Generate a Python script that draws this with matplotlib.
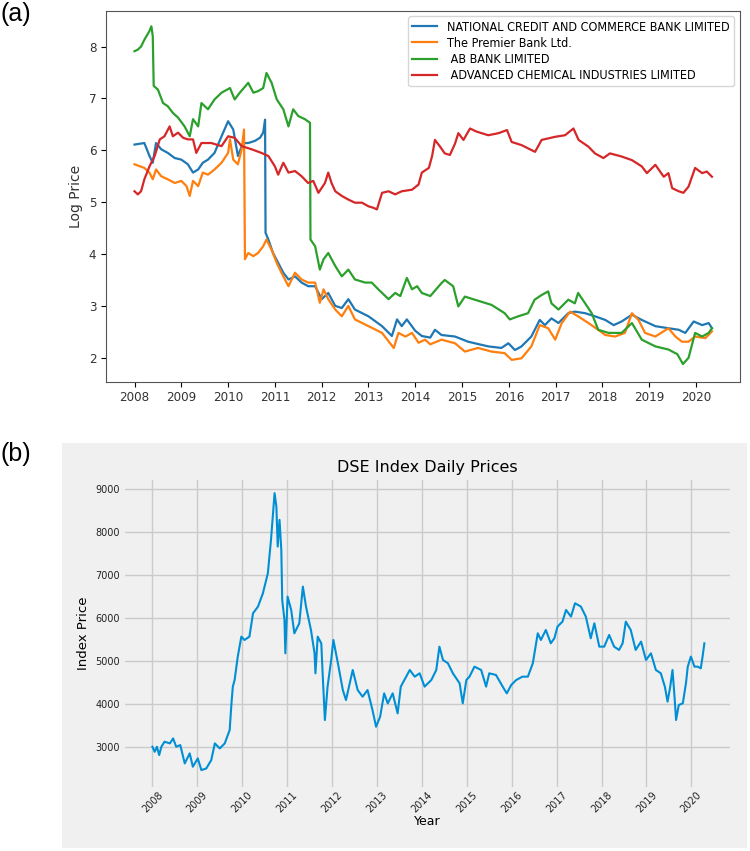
import matplotlib
matplotlib.use("Agg")
import matplotlib.pyplot as plt
from matplotlib import font_manager as fm
from matplotlib.patches import Rectangle

# ---- data (decimal year, value) ----
series_names = ["NATIONAL CREDIT AND COMMERCE BANK LIMITED", "The Premier Bank Ltd.",
                " AB BANK LIMITED", " ADVANCED CHEMICAL INDUSTRIES LIMITED"]

ncc_t = [2008.0, 2008.21, 2008.32, 2008.39, 2008.46, 2008.57, 2008.71, 2008.86, 2009.0, 2009.14,
         2009.25, 2009.36, 2009.46, 2009.57, 2009.71, 2009.86, 2010.0, 2010.11, 2010.21, 2010.32,
         2010.43, 2010.57, 2010.68, 2010.75, 2010.79, 2010.8, 2010.86, 2010.96, 2011.07, 2011.18,
         2011.29, 2011.43, 2011.57, 2011.71, 2011.86, 2012.0, 2012.14, 2012.29, 2012.43, 2012.57,
         2012.71, 2013.0, 2013.29, 2013.5, 2013.61, 2013.71, 2013.82, 2014.0, 2014.14, 2014.32,
         2014.42, 2014.56, 2014.85, 2015.13, 2015.56, 2015.84, 2015.99, 2016.13, 2016.27, 2016.48,
         2016.66, 2016.77, 2016.91, 2017.06, 2017.27, 2017.41, 2017.63, 2017.84, 2018.06, 2018.24,
         2018.41, 2018.63, 2018.84, 2019.13, 2019.41, 2019.63, 2019.77, 2019.95, 2020.13, 2020.27,
         2020.34]
ncc_v = [6.11, 6.14, 5.89, 5.76, 6.14, 6.02, 5.95, 5.85, 5.82, 5.73,
         5.57, 5.63, 5.76, 5.82, 5.95, 6.27, 6.56, 6.4, 5.89, 6.14,
         6.14, 6.18, 6.24, 6.34, 6.59, 4.41, 4.28, 4.02, 3.83, 3.64,
         3.51, 3.57, 3.45, 3.38, 3.38, 3.13, 3.25, 3.0, 2.96, 3.13,
         2.93, 2.8, 2.61, 2.42, 2.74, 2.61, 2.74, 2.52, 2.42, 2.39,
         2.54, 2.44, 2.41, 2.31, 2.22, 2.19, 2.28, 2.15, 2.22, 2.41,
         2.73, 2.63, 2.76, 2.67, 2.86, 2.89, 2.86, 2.8, 2.73, 2.63,
         2.7, 2.83, 2.73, 2.61, 2.57, 2.54, 2.48, 2.7, 2.63, 2.67,
         2.57]

prem_t = [2008.0, 2008.21, 2008.32, 2008.39, 2008.46, 2008.57, 2008.71, 2008.86, 2009.0, 2009.11,
          2009.18, 2009.25, 2009.36, 2009.46, 2009.57, 2009.71, 2009.86, 2010.0, 2010.04, 2010.11,
          2010.21, 2010.29, 2010.34, 2010.36, 2010.43, 2010.54, 2010.64, 2010.75, 2010.82, 2010.93,
          2011.04, 2011.14, 2011.29, 2011.43, 2011.57, 2011.71, 2011.86, 2011.96, 2012.04, 2012.14,
          2012.29, 2012.43, 2012.57, 2012.71, 2013.0, 2013.29, 2013.54, 2013.64, 2013.79, 2013.93,
          2014.07, 2014.21, 2014.32, 2014.56, 2014.85, 2015.06, 2015.34, 2015.63, 2015.91, 2016.06,
          2016.27, 2016.48, 2016.66, 2016.84, 2016.99, 2017.13, 2017.31, 2017.48, 2017.7, 2017.91,
          2018.06, 2018.27, 2018.48, 2018.63, 2018.77, 2018.91, 2019.13, 2019.41, 2019.56, 2019.7,
          2019.84, 2019.98, 2020.2, 2020.34]
prem_v = [5.73, 5.66, 5.57, 5.44, 5.63, 5.5, 5.44, 5.37, 5.41, 5.31,
          5.12, 5.41, 5.31, 5.57, 5.53, 5.63, 5.76, 5.95, 6.21, 5.82,
          5.73, 6.02, 6.4, 3.9, 4.02, 3.96, 4.02, 4.15, 4.28, 4.08,
          3.83, 3.64, 3.38, 3.64, 3.51, 3.45, 3.45, 3.06, 3.32, 3.13,
          2.93, 2.8, 3.0, 2.74, 2.61, 2.48, 2.19, 2.48, 2.41, 2.48,
          2.29, 2.35, 2.26, 2.35, 2.28, 2.12, 2.19, 2.12, 2.09, 1.96,
          1.99, 2.22, 2.63, 2.57, 2.35, 2.67, 2.89, 2.8, 2.67, 2.54,
          2.44, 2.41, 2.48, 2.86, 2.73, 2.48, 2.41, 2.57, 2.41, 2.31,
          2.31, 2.41, 2.38, 2.51]

ab_t = [2008.0, 2008.07, 2008.14, 2008.21, 2008.32, 2008.36, 2008.39, 2008.41, 2008.5, 2008.61,
        2008.71, 2008.82, 2008.93, 2009.07, 2009.18, 2009.25, 2009.36, 2009.43, 2009.57, 2009.71,
        2009.86, 2010.04, 2010.14, 2010.25, 2010.43, 2010.54, 2010.64, 2010.75, 2010.82, 2010.93,
        2011.04, 2011.18, 2011.29, 2011.39, 2011.5, 2011.64, 2011.75, 2011.76, 2011.86, 2011.96,
        2012.04, 2012.14, 2012.29, 2012.43, 2012.57, 2012.71, 2012.93, 2013.07, 2013.21, 2013.43,
        2013.57, 2013.68, 2013.82, 2013.93, 2014.04, 2014.14, 2014.32, 2014.56, 2014.63, 2014.81,
        2014.92, 2015.06, 2015.27, 2015.63, 2015.91, 2016.02, 2016.2, 2016.41, 2016.55, 2016.7,
        2016.84, 2016.91, 2017.06, 2017.27, 2017.41, 2017.48, 2017.63, 2017.77, 2017.91, 2018.13,
        2018.41, 2018.63, 2018.84, 2019.13, 2019.41, 2019.6, 2019.72, 2019.84, 2019.98, 2020.13,
        2020.27, 2020.34]
ab_v = [7.91, 7.94, 8.0, 8.13, 8.3, 8.39, 8.2, 7.24, 7.17, 6.91,
        6.85, 6.72, 6.63, 6.46, 6.27, 6.6, 6.46, 6.91, 6.79, 6.98,
        7.11, 7.2, 6.98, 7.11, 7.3, 7.11, 7.14, 7.2, 7.49, 7.3,
        6.98, 6.79, 6.46, 6.79, 6.66, 6.6, 6.53, 4.28, 4.15, 3.7,
        3.9, 4.02, 3.77, 3.57, 3.7, 3.51, 3.45, 3.45, 3.32, 3.13,
        3.25, 3.19, 3.54, 3.32, 3.38, 3.25, 3.19, 3.44, 3.5, 3.38,
        2.99, 3.18, 3.12, 3.02, 2.86, 2.74, 2.8, 2.86, 3.12, 3.21,
        3.28, 3.05, 2.93, 3.12, 3.05, 3.25, 3.05, 2.86, 2.54, 2.48,
        2.48, 2.67, 2.35, 2.22, 2.16, 2.07, 1.88, 2.0, 2.48, 2.41,
        2.48, 2.57]

aci_t = [2008.0, 2008.07, 2008.14, 2008.21, 2008.32, 2008.43, 2008.54, 2008.64, 2008.75, 2008.82,
         2008.93, 2009.04, 2009.14, 2009.25, 2009.32, 2009.43, 2009.64, 2009.86, 2010.0, 2010.14,
         2010.29, 2010.5, 2010.71, 2010.86, 2011.0, 2011.07, 2011.18, 2011.29, 2011.43, 2011.57,
         2011.71, 2011.82, 2011.93, 2012.07, 2012.14, 2012.21, 2012.29, 2012.43, 2012.57, 2012.71,
         2012.86, 2013.0, 2013.11, 2013.18, 2013.29, 2013.43, 2013.57, 2013.71, 2013.93, 2014.07,
         2014.14, 2014.29, 2014.36, 2014.42, 2014.53, 2014.63, 2014.74, 2014.85, 2014.92, 2015.03,
         2015.17, 2015.31, 2015.56, 2015.78, 2015.96, 2016.06, 2016.27, 2016.56, 2016.7, 2016.99,
         2017.2, 2017.38, 2017.49, 2017.7, 2017.84, 2018.02, 2018.16, 2018.41, 2018.63, 2018.84,
         2018.95, 2019.13, 2019.31, 2019.41, 2019.49, 2019.63, 2019.73, 2019.84, 2019.98, 2020.13,
         2020.23, 2020.34]
aci_v = [5.21, 5.15, 5.21, 5.44, 5.69, 5.89, 6.21, 6.27, 6.46, 6.27,
         6.34, 6.24, 6.21, 6.21, 5.95, 6.14, 6.14, 6.08, 6.27, 6.24,
         6.08, 6.02, 5.95, 5.89, 5.69, 5.53, 5.76, 5.57, 5.6, 5.5,
         5.37, 5.41, 5.18, 5.37, 5.57, 5.37, 5.21, 5.12, 5.05, 4.99,
         4.99, 4.92, 4.89, 4.86, 5.18, 5.21, 5.15, 5.21, 5.24, 5.34,
         5.57, 5.66, 5.89, 6.2, 6.07, 5.94, 5.91, 6.13, 6.33, 6.2,
         6.42, 6.36, 6.29, 6.33, 6.39, 6.16, 6.1, 5.97, 6.2, 6.26,
         6.29, 6.42, 6.2, 6.07, 5.94, 5.85, 5.94, 5.88, 5.81, 5.69,
         5.56, 5.72, 5.49, 5.56, 5.27, 5.21, 5.18, 5.3, 5.66, 5.56,
         5.59, 5.49]

dse_t = [2008.0, 2008.05, 2008.1, 2008.15, 2008.2, 2008.27, 2008.39, 2008.46, 2008.53, 2008.62,
         2008.72, 2008.83, 2008.9, 2009.01, 2009.09, 2009.2, 2009.31, 2009.39, 2009.5, 2009.61,
         2009.72, 2009.76, 2009.79, 2009.83, 2009.9, 2009.98, 2010.05, 2010.16, 2010.24, 2010.35,
         2010.46, 2010.57, 2010.64, 2010.72, 2010.76, 2010.79, 2010.83, 2010.87, 2010.89, 2010.94,
         2010.96, 2011.01, 2011.09, 2011.16, 2011.27, 2011.35, 2011.42, 2011.53, 2011.61, 2011.63,
         2011.68, 2011.76, 2011.79, 2011.84, 2011.9, 2011.98, 2012.03, 2012.13, 2012.24, 2012.31,
         2012.46, 2012.57, 2012.68, 2012.79, 2012.9, 2012.98, 2013.07, 2013.16, 2013.24, 2013.35,
         2013.46, 2013.53, 2013.73, 2013.84, 2013.95, 2014.06, 2014.21, 2014.32, 2014.39, 2014.47,
         2014.58, 2014.69, 2014.84, 2014.91, 2014.99, 2015.06, 2015.17, 2015.32, 2015.43, 2015.5,
         2015.65, 2015.8, 2015.89, 2015.99, 2016.1, 2016.24, 2016.36, 2016.47, 2016.58, 2016.65,
         2016.76, 2016.87, 2016.95, 2017.02, 2017.13, 2017.21, 2017.32, 2017.41, 2017.54, 2017.65,
         2017.76, 2017.84, 2017.95, 2018.06, 2018.17, 2018.28, 2018.39, 2018.47, 2018.54, 2018.65,
         2018.76, 2018.88, 2018.99, 2019.1, 2019.21, 2019.32, 2019.41, 2019.47, 2019.53, 2019.58,
         2019.62, 2019.66, 2019.72, 2019.81, 2019.88, 2019.92, 2019.99, 2020.07, 2020.14, 2020.21,
         2020.25, 2020.29]
dse_v = [3000, 2883, 3000, 2806, 3000, 3117, 3078, 3194, 3000, 3039,
         2611, 2845, 2534, 2728, 2456, 2495, 2689, 3078, 2961, 3078,
         3389, 4010, 4399, 4554, 5098, 5565, 5487, 5565, 6109, 6264,
         6575, 7041, 7819, 8907, 8596, 7663, 8285, 7585, 6420, 5953,
         5176, 6497, 6186, 5642, 5876, 6731, 6264, 5720, 5176, 4710,
         5565, 5409, 4710, 3622, 4399, 5021, 5487, 4943, 4321, 4088,
         4788, 4321, 4166, 4321, 3855, 3466, 3699, 4244, 4010, 4244,
         3777, 4399, 4788, 4633, 4711, 4400, 4555, 4788, 5332, 5021,
         4944, 4711, 4478, 4012, 4555, 4633, 4866, 4788, 4400, 4711,
         4672, 4400, 4244, 4439, 4555, 4633, 4633, 4944, 5643, 5488,
         5721, 5410, 5527, 5799, 5914, 6187, 6032, 6343, 6265, 6032,
         5527, 5876, 5332, 5332, 5604, 5332, 5255, 5410, 5914, 5721,
         5255, 5449, 5021, 5177, 4788, 4711, 4400, 4050, 4400, 4788,
         4244, 3623, 3972, 4012, 4478, 4866, 5100, 4866, 4866, 4827,
         5100, 5410]

year_ticks = list(range(2008, 2021))

# condensed font for the squeezed top panel, if one is installed
narrow = None
for f in fm.fontManager.ttflist:
    base = f.fname.split("/")[-1]
    if base in ("DejaVuSansCondensed.ttf", "LiberationSansNarrow-Regular.ttf"):
        narrow = fm.FontProperties(fname=f.fname)
        break
if narrow is None:
    narrow = fm.FontProperties(family="DejaVu Sans")

fig = plt.figure(figsize=(7.5, 8.51), dpi=100)

# ---- (a) log prices ----
ax1 = fig.add_axes([0.1413, 0.5515, 0.8454, 0.4359])
colors = ["#1f77b4", "#ff7f0e", "#2ca02c", "#d62728"]
for (t, v), name, c in zip([(ncc_t, ncc_v), (prem_t, prem_v), (ab_t, ab_v), (aci_t, aci_v)],
                           series_names, colors):
    ax1.plot(t, v, color=c, lw=1.6, label=name)
ax1.set_xlim(2007.39, 2020.94)
ax1.set_ylim(1.54, 8.69)
ax1.set_xticks(year_ticks)
ax1.set_yticks([2, 3, 4, 5, 6, 7, 8])
for lab in ax1.get_xticklabels() + ax1.get_yticklabels():
    lab.set_fontproperties(narrow)
    lab.set_fontsize(9.5)
    lab.set_color("#333333")
for s in ax1.spines.values():
    s.set_color("#555555")
ax1.set_ylabel("Log Price", fontsize=10, color="#333333")
leg_font = narrow.copy()
leg_font.set_size(9)
ax1.legend(loc="upper right", prop=leg_font, borderaxespad=0.45,
           labelspacing=0.25, borderpad=0.35)

# ---- (b) DSE index ----
fig.add_artist(Rectangle((0.082, 0.004), 0.914, 0.475, transform=fig.transFigure,
                         facecolor="#f0f0f0", edgecolor="none", zorder=0))
ax2 = fig.add_axes([0.1667, 0.0756, 0.8066, 0.3604])
ax2.set_facecolor("#f0f0f0")
ax2.plot(dse_t, dse_v, color="#008fd5", lw=1.5)
ax2.set_xlim(2007.39, 2020.86)
ax2.set_ylim(2070, 9215)
ax2.set_xticks(year_ticks)
ax2.set_yticks([3000, 4000, 5000, 6000, 7000, 8000, 9000])
ax2.grid(True, color="#cbcbcb", lw=1)
ax2.set_axisbelow(True)
for s in ax2.spines.values():
    s.set_visible(False)
ax2.tick_params(length=0, labelsize=7, colors="#222222")
ax2.tick_params(axis="x", pad=2)
plt.setp(ax2.get_xticklabels(), rotation=45)
ax2.set_title("DSE Index Daily Prices", fontsize=11.5, pad=6)
ax2.set_xlabel("Year", fontsize=9, labelpad=1)
ax2.set_ylabel("Index Price", fontsize=9.5)

fig.text(0.0, 0.998, "(a)", fontsize=18, family="Liberation Sans", va="top")
fig.text(0.0, 0.481, "(b)", fontsize=18, family="Liberation Sans", va="top")

fig.savefig("out.png", dpi=100)
